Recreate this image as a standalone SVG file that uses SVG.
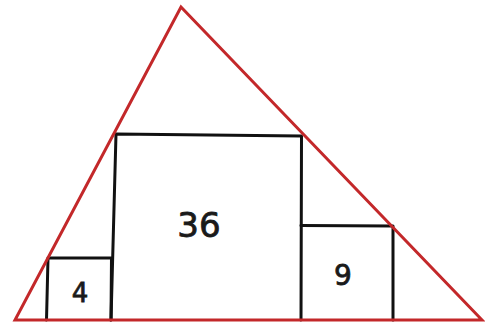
<svg xmlns="http://www.w3.org/2000/svg" width="485" height="323" viewBox="0 0 485 323">
<style>
.sq{fill:none;stroke:#111;stroke-width:3;stroke-linejoin:round;stroke-linecap:round}
.tri{fill:none;stroke:#c3282a;stroke-width:3;stroke-linejoin:miter}
.lbl{font-family:"DejaVu Sans",sans-serif;fill:#1a1a1a;stroke:#1a1a1a;stroke-width:0.8;text-anchor:middle}
</style>
<rect width="485" height="323" fill="#fff"/>
<g id="sq4">
<path class="sq" d="M46.5,320 L48,258 L111.5,258 L111,320"/>
<text class="lbl" x="80" y="302" font-size="26">4</text>
</g>
<g id="sq36">
<path class="sq" d="M111,320 L116,134 L301.5,136 L301,320"/>
<text class="lbl" x="199" y="237" font-size="34">36</text>
</g>
<g id="sq9">
<path class="sq" d="M301,225.5 L393,226 L393,320"/>
<text class="lbl" x="343" y="285" font-size="28">9</text>
</g>
<g id="triangle">
<polygon class="tri" points="181,7 482,320 15,320"/>
</g>
</svg>
